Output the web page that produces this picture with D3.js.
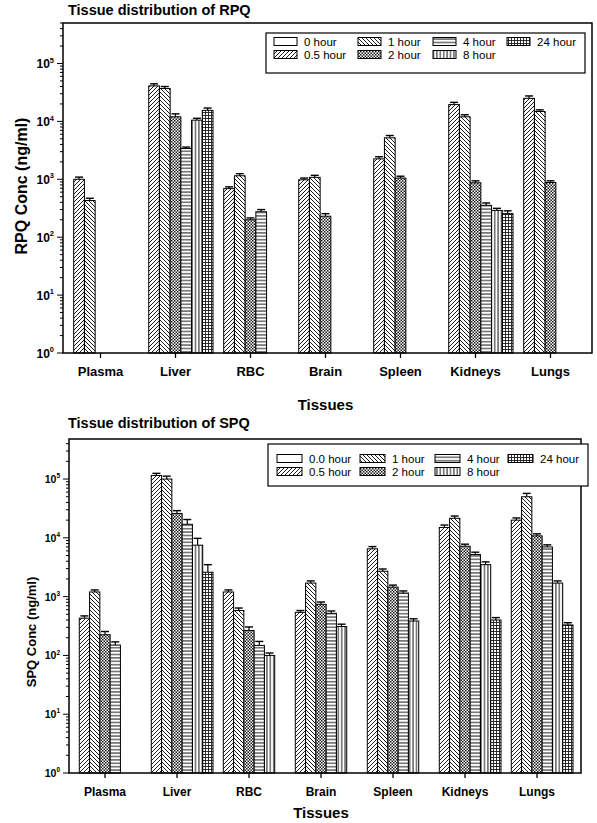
<!DOCTYPE html>
<html><head><meta charset="utf-8">
<script src="https://cdn.jsdelivr.net/npm/d3@7"></script>
<style>body{margin:0;background:#fff}svg{display:block;font-family:Arial,"Liberation Sans",sans-serif}</style>
</head><body>
<svg id="c" width="597" height="823"></svg>
<script>
const tissues = ["Plasma","Liver","RBC","Brain","Spleen","Kidneys","Lungs"];
const seriesRPQ = ["0 hour","0.5 hour","1 hour","2 hour","4 hour","8 hour","24 hour"];
const seriesSPQ = ["0.0 hour","0.5 hour","1 hour","2 hour","4 hour","8 hour","24 hour"];
const patternKeys = ["p0","p05","p1","p2","p4","p8","p24"];
const decadeTicks = [1,10,100,1000,10000,100000];

// RPQ (ng/ml) per time point, across tissues
const rpq_0h  = [null,null,null,null,null,null,null];
const rpq_05h = [1000, 41000, 690, 980, 2250, 19500, 25000];
const rpq_1h  = [430, 37000, 1150, 1080, 5200, 12000, 14800];
const rpq_2h  = [null, 12000, 200, 230, 1050, 870, 880];
const rpq_4h  = [null, 3400, 275, null, null, 355, null];
const rpq_8h  = [null, 10500, null, null, null, 290, null];
const rpq_24h = [null, 15500, null, null, null, 255, null];
// RPQ upper error
const rpqErr_0h  = [null,null,null,null,null,null,null];
const rpqErr_05h = [90, 3500, 50, 70, 200, 1800, 2500];
const rpqErr_1h  = [40, 3000, 100, 90, 500, 1000, 1000];
const rpqErr_2h  = [null, 1500, 15, 25, 80, 70, 60];
const rpqErr_4h  = [null, 200, 25, null, null, 35, null];
const rpqErr_8h  = [null, 800, null, null, null, 25, null];
const rpqErr_24h = [null, 1500, null, null, null, 30, null];

// SPQ (ng/ml)
const spq_0h  = [null,null,null,null,null,null,null];
const spq_05h = [430, 115000, 1200, 540, 6500, 15000, 20000];
const spq_1h  = [1200, 100000, 580, 1700, 2700, 21500, 50000];
const spq_2h  = [225, 26000, 265, 740, 1450, 7200, 10800];
const spq_4h  = [150, 17000, 148, 520, 1150, 5200, 7000];
const spq_8h  = [null, 7500, 100, 310, 385, 3500, 1700];
const spq_24h = [null, 2600, null, null, null, 400, 330];
const spqErr_0h  = [null,null,null,null,null,null,null];
const spqErr_05h = [40, 10000, 100, 40, 600, 1500, 1800];
const spqErr_1h  = [100, 12000, 60, 150, 250, 2000, 7000];
const spqErr_2h  = [30, 3000, 40, 70, 120, 600, 900];
const spqErr_4h  = [20, 3500, 25, 50, 100, 500, 600];
const spqErr_8h  = [null, 2300, 10, 30, 35, 400, 150];
const spqErr_24h = [null, 900, null, null, null, 40, 30];

const svg = d3.select("#c");
const defs = svg.append("defs");
const ink = "#1a1a1a";
function pat(id, w, h, draw){
  const p = defs.append("pattern").attr("id", id).attr("patternUnits","userSpaceOnUse").attr("width", w).attr("height", h);
  p.append("rect").attr("width", w).attr("height", h).attr("fill", "#fff");
  draw(p);
}
pat("p0", 4, 4, p => {});
pat("p05", 4, 4, p => p.append("path").attr("d","M-1,1 l2,-2 M0,4 l4,-4 M3,5 l2,-2").attr("stroke",ink).attr("stroke-width",1));
pat("p1", 4, 4, p => p.append("path").attr("d","M-1,3 l2,2 M0,0 l4,4 M3,-1 l2,2").attr("stroke",ink).attr("stroke-width",1));
pat("p2", 3, 3, p => { p.append("rect").attr("width",1.5).attr("height",1.5).attr("fill",ink); p.append("rect").attr("x",1.5).attr("y",1.5).attr("width",1.5).attr("height",1.5).attr("fill",ink); });
pat("p4", 4, 3.4, p => p.append("line").attr("x1",0).attr("x2",4).attr("y1",1.7).attr("y2",1.7).attr("stroke",ink).attr("stroke-width",1));
pat("p8", 3.4, 4, p => p.append("line").attr("y1",0).attr("y2",4).attr("x1",1.7).attr("x2",1.7).attr("stroke",ink).attr("stroke-width",1));
pat("p24", 3, 3, p => p.append("path").attr("d","M0,1.5 h3 M1.5,0 v3").attr("stroke",ink).attr("stroke-width",0.9));

function drawChart(cfg){
  const g = svg.append("g");
  const x0 = d3.scaleBand().domain(cfg.tissues).range([cfg.bandL, cfg.bandR]).padding(0);
  const x1 = d3.scaleBand().domain(cfg.series).range([0, x0.bandwidth()]).padding(0);
  const y = d3.scaleLog().domain([1, cfg.yMax]).range([cfg.bottom, cfg.top]);

  // bars
  cfg.series.forEach((s, si) => {
    const vals = cfg.values[si], errs = cfg.errors[si];
    cfg.tissues.forEach((t, ti) => {
      const v = vals[ti];
      if (v == null) return;
      const bx = x0(t) + x1(s), bw = x1.bandwidth();
      const e = errs[ti];
      if (e != null) {
        const cx = bx + bw/2;
        g.append("line").attr("x1",cx).attr("x2",cx).attr("y1",y(v)).attr("y2",y(v+e)).attr("stroke","#000").attr("stroke-width",1.2);
        g.append("line").attr("x1",cx-4).attr("x2",cx+4).attr("y1",y(v+e)).attr("y2",y(v+e)).attr("stroke","#000").attr("stroke-width",1.4);
      }
      g.append("rect").attr("x",bx).attr("y",y(v)).attr("width",bw).attr("height",cfg.bottom - y(v))
        .attr("fill",`url(#${cfg.patterns[si]})`).attr("stroke","#000").attr("stroke-width",1);
    });
  });

  // frame
  g.append("rect").attr("x",cfg.left).attr("y",cfg.top).attr("width",cfg.right-cfg.left).attr("height",cfg.bottom-cfg.top)
    .attr("fill","none").attr("stroke","#000").attr("stroke-width",1.5);

  // y axis with minor ticks
  const minor = [];
  for (let d = 1; d <= cfg.yMax; d *= 10) for (let k = 1; k <= 9; k++) { const v = d*k; if (v <= cfg.yMax) minor.push(v); }
  const yAxis = g.append("g").attr("transform",`translate(${cfg.left},0)`);
  minor.forEach(v => {
    const major = decadeTicks.includes(v);
    yAxis.append("line").attr("x1",0).attr("x2", major ? -6 : -3).attr("y1",y(v)).attr("y2",y(v)).attr("stroke","#000").attr("stroke-width",1);
  });
  decadeTicks.forEach(v => {
    const t = yAxis.append("text").attr("x",-9).attr("y",y(v)+cfg.tickFs*0.38).attr("text-anchor","end")
      .attr("font-weight","bold").attr("font-size",cfg.tickFs);
    t.append("tspan").text("10");
    t.append("tspan").attr("dy",-cfg.tickFs*0.45).attr("font-size",cfg.tickFs*0.62).text(String(Math.round(Math.log10(v))));
  });

  // x axis
  const xa = g.append("g").attr("transform",`translate(0,${cfg.bottom})`)
    .call(d3.axisBottom(x0).tickSize(5).tickSizeOuter(0).tickPadding(9));
  xa.select(".domain").remove();
  xa.selectAll("line").attr("stroke","#000").attr("stroke-width",1.3);
  xa.selectAll("text").attr("font-family","Arial, 'Liberation Sans', sans-serif").attr("font-size",cfg.catFs).attr("font-weight","bold").attr("fill","#000");

  // titles
  g.append("text").attr("x",68).attr("y",cfg.titleY).attr("font-size",14.5).attr("font-weight","bold").text(cfg.title);
  g.append("text").attr("x",(cfg.bandL+cfg.bandR)/2).attr("y",cfg.xTitleY).attr("text-anchor","middle").attr("font-size",15).attr("font-weight","bold").text("Tissues");
  g.append("text").attr("transform",`translate(${cfg.yTitleX},${cfg.yTitleY}) rotate(-90)`).attr("text-anchor","middle")
    .attr("font-size",cfg.yTitleFs).attr("font-weight","bold").text(cfg.yTitle);

  // legend
  const L = cfg.legend;
  g.append("rect").attr("x",L.x).attr("y",L.y).attr("width",L.w).attr("height",L.h).attr("fill","#fff").attr("stroke","#000").attr("stroke-width",1.2);
  cfg.series.forEach((s, si) => {
    const c = Math.floor(si/2), r = si % 2;
    const sx = L.cols[c], sy = L.rows[r];
    g.append("rect").attr("x",sx).attr("y",sy-4).attr("width",L.sw).attr("height",8).attr("fill",`url(#${cfg.patterns[si]})`).attr("stroke","#000").attr("stroke-width",1);
    g.append("text").attr("x",sx+L.sw+7).attr("y",sy+4).attr("font-size",11.5).text(s);
  });
}

drawChart({
  tissues, series: seriesRPQ, patterns: patternKeys,
  values: [rpq_0h, rpq_05h, rpq_1h, rpq_2h, rpq_4h, rpq_8h, rpq_24h],
  errors: [rpqErr_0h, rpqErr_05h, rpqErr_1h, rpqErr_2h, rpqErr_4h, rpqErr_8h, rpqErr_24h],
  left: 63, right: 592, top: 23, bottom: 353, bandL: 63, bandR: 588, yMax: 5e5,
  tickFs: 12, catFs: 13, title: "Tissue distribution of RPQ", titleY: 15, xTitleY: 410,
  yTitle: "RPQ Conc (ng/ml)", yTitleX: 27, yTitleY: 186, yTitleFs: 16,
  legend: {x: 266, y: 33, w: 319, h: 40, cols: [274, 358, 433, 507], rows: [41.5, 54.5], sw: 23}
});
drawChart({
  tissues, series: seriesSPQ, patterns: patternKeys,
  values: [spq_0h, spq_05h, spq_1h, spq_2h, spq_4h, spq_8h, spq_24h],
  errors: [spqErr_0h, spqErr_05h, spqErr_1h, spqErr_2h, spqErr_4h, spqErr_8h, spqErr_24h],
  left: 69, right: 581, top: 439, bottom: 773, bandL: 69, bandR: 573, yMax: 4.8e5,
  tickFs: 10.5, catFs: 12, title: "Tissue distribution of SPQ", titleY: 428, xTitleY: 818,
  yTitle: "SPQ Conc (ng/ml)", yTitleX: 36, yTitleY: 632, yTitleFs: 13,
  legend: {x: 268, y: 444, w: 320, h: 42, cols: [277, 360, 435, 508], rows: [458.5, 471.5], sw: 25}
});
</script>
</body></html>
